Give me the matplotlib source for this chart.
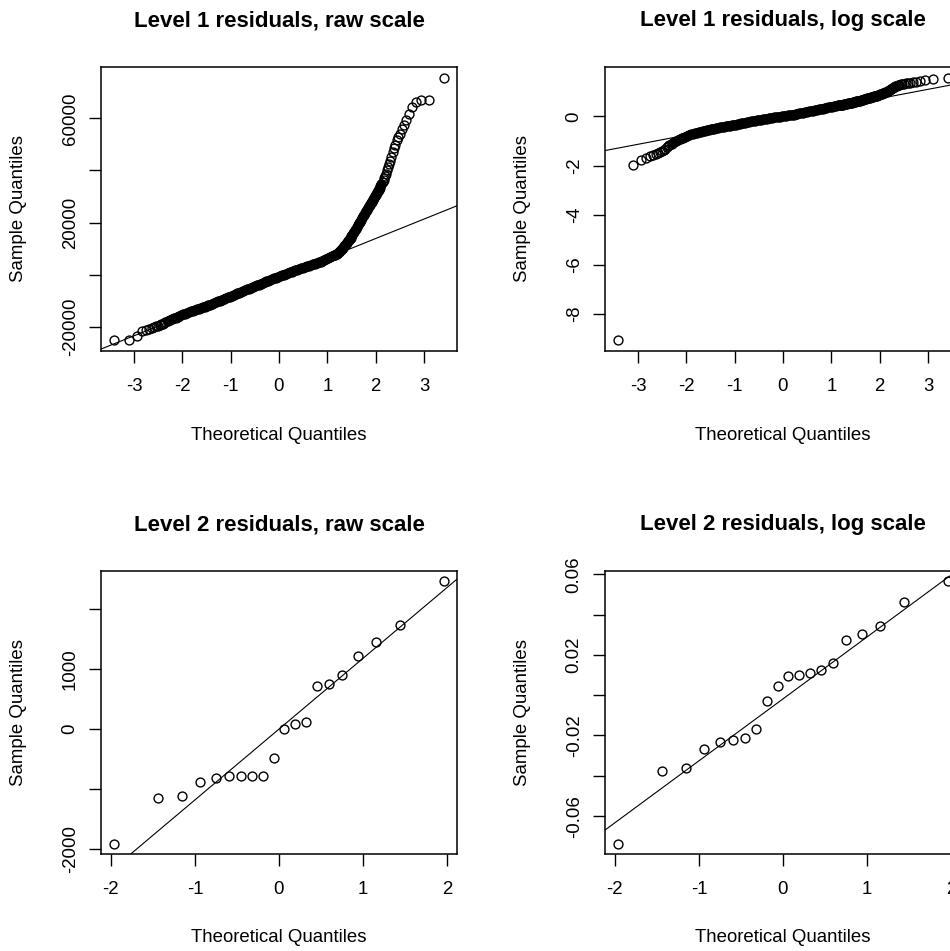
import matplotlib.pyplot as plt

plt.rcParams['font.family'] = ['Liberation Sans', 'DejaVu Sans']

# Level 1 (~1540 residuals): theoretical normal quantiles of the drawn points
l1_theo = [-3.41, -3.10, -2.94, -2.84, -2.76, -2.69, -2.63, -2.585, -2.54, -2.50,
           -2.47, -2.435, -2.405, -2.375, -2.35,
           -2.30, -2.26, -2.22, -2.18, -2.14, -2.10, -2.06, -2.02, -1.98, -1.94,
           -1.90, -1.86, -1.82, -1.78, -1.74, -1.70, -1.66, -1.62, -1.58, -1.54,
           -1.50, -1.46, -1.42, -1.38, -1.34, -1.30, -1.26, -1.22, -1.18, -1.14,
           -1.10, -1.06, -1.02, -0.98, -0.94, -0.90, -0.86, -0.82, -0.78, -0.74,
           -0.70, -0.66, -0.62, -0.58, -0.54, -0.50, -0.46, -0.42, -0.38, -0.34,
           -0.30, -0.26, -0.22, -0.18, -0.14, -0.10, -0.06, -0.02, 0.02, 0.06,
           0.10, 0.14, 0.18, 0.22, 0.26, 0.30, 0.34, 0.38, 0.42, 0.46,
           0.50, 0.54, 0.58, 0.62, 0.66, 0.70, 0.74, 0.78, 0.82, 0.86,
           0.90, 0.94, 0.98, 1.02, 1.06, 1.10, 1.14,
           1.16, 1.18, 1.20, 1.22, 1.24, 1.26, 1.28, 1.30, 1.32, 1.34,
           1.36, 1.38, 1.40, 1.42, 1.44, 1.46, 1.48, 1.50, 1.52, 1.54,
           1.56, 1.58, 1.60, 1.62, 1.64, 1.66, 1.68, 1.70, 1.72, 1.74,
           1.76, 1.78, 1.80, 1.82, 1.84, 1.86, 1.88, 1.90, 1.92, 1.94,
           1.96, 1.98, 2.00, 2.02, 2.04, 2.06, 2.08, 2.10, 2.12,
           2.146, 2.163, 2.18, 2.198, 2.216, 2.236, 2.257, 2.28, 2.30, 2.325,
           2.35, 2.375, 2.405, 2.435, 2.47, 2.50, 2.54, 2.585, 2.63, 2.69,
           2.76, 2.84, 2.94, 3.10, 3.41]

l1_raw = [-25100, -25000, -23300, -21650, -20950, -20700, -20370, -20000, -19650, -19400,
          -19200, -18880, -18600, -18330, -18100,
          -17650, -17320, -16990, -16680, -16360, -16030, -15720, -15410, -15110, -14810,
          -14520, -14230, -13940, -13680, -13410, -13160, -12900, -12640, -12380, -12110,
          -11840, -11590, -11330, -11040, -10740, -10440, -10140, -9840, -9540, -9240,
          -8930, -8620, -8320, -8000, -7690, -7380, -7070, -6760, -6460, -6150,
          -5840, -5530, -5220, -4920, -4610, -4310, -4000, -3700, -3400, -3100,
          -2800, -2500, -2200, -1900, -1610, -1320, -1030, -740, -450, -160,
          120, 400, 680, 960, 1230, 1510, 1780, 2050, 2320, 2560,
          2800, 3050, 3300, 3550, 3800, 4060, 4320, 4570, 4840, 5110,
          5450, 5770, 6100, 6440, 6780, 7130, 7490,
          7690, 7910, 8170, 8470, 8810, 9190, 9590, 10010, 10450, 10900,
          11360, 11830, 12310, 12810, 13310, 13810, 14320, 14840, 15370, 15910,
          16500, 17130, 17780, 18440, 19100, 19760, 20420, 21080, 21740, 22400,
          23060, 23720, 24380, 25020, 25640, 26260, 26880, 27500, 28120, 28740,
          29400, 30060, 30720, 31380, 32040, 32700, 33360, 34070, 34800,
          35700, 36400, 37100, 37850, 38800, 40000, 41200, 42400, 43500, 45000,
          46900, 48500, 49700, 51500, 52700, 53900, 55800, 57300, 59200, 61500,
          64200, 66200, 66900, 67100, 75600]

l1_log = [-9.07, -1.96, -1.78, -1.67, -1.61, -1.56, -1.52, -1.49, -1.44, -1.40,
          -1.36, -1.31, -1.26, -1.21, -1.17,
          -1.100, -1.057, -1.014, -0.972, -0.932, -0.896, -0.860, -0.823, -0.787, -0.756,
          -0.732, -0.710, -0.688, -0.665, -0.643, -0.620, -0.598, -0.577, -0.558, -0.542,
          -0.526, -0.510, -0.494, -0.478, -0.462, -0.446, -0.431, -0.416, -0.402, -0.388,
          -0.374, -0.359, -0.345, -0.331, -0.317, -0.302, -0.286, -0.270, -0.254, -0.238,
          -0.222, -0.206, -0.190, -0.175, -0.161, -0.148, -0.135, -0.122, -0.109, -0.096,
          -0.083, -0.070, -0.057, -0.045, -0.033, -0.022, -0.010, 0.001, 0.013, 0.025,
          0.036, 0.047, 0.058, 0.071, 0.086, 0.103, 0.119, 0.135, 0.151, 0.168,
          0.184, 0.200, 0.216, 0.232, 0.249, 0.265, 0.281, 0.297, 0.314, 0.330,
          0.346, 0.362, 0.377, 0.392, 0.408, 0.423, 0.438,
          0.446, 0.454, 0.461, 0.469, 0.476, 0.485, 0.494, 0.503, 0.512, 0.521,
          0.530, 0.540, 0.549, 0.558, 0.567, 0.576, 0.585, 0.594, 0.603, 0.613,
          0.622, 0.631, 0.640, 0.652, 0.664, 0.676, 0.687, 0.699, 0.711, 0.723,
          0.734, 0.746, 0.758, 0.770, 0.781, 0.793, 0.805, 0.817, 0.828, 0.841,
          0.855, 0.871, 0.886, 0.901, 0.916, 0.932, 0.947, 0.962, 0.977,
          1.00, 1.02, 1.04, 1.06, 1.08, 1.10, 1.13, 1.15, 1.18, 1.21,
          1.23, 1.26, 1.28, 1.30, 1.31, 1.32, 1.33, 1.34, 1.35, 1.37,
          1.40, 1.43, 1.46, 1.49, 1.57]

# sample quartiles of the full level 1 residuals (for qqline)
l1_raw_quart = [-5980, 4070]
l1_log_quart = [-0.27, 0.23]

# Level 2 (20 groups)
l2_theo = [-1.960, -1.440, -1.150, -0.935, -0.755, -0.598, -0.454, -0.319, -0.189, -0.063,
           0.063, 0.189, 0.319, 0.454, 0.598, 0.755, 0.935, 1.150, 1.440, 1.960]
l2_raw = [-1910, -1155, -1122, -883, -817, -790, -785, -778, -775, -477,
          0, 89, 112, 723, 762, 912, 1217, 1462, 1740, 2467]
l2_log = [-0.0736, -0.0378, -0.0363, -0.0269, -0.0231, -0.0224, -0.0214, -0.0170, -0.0030, 0.0045,
          0.0094, 0.0102, 0.0111, 0.0126, 0.0160, 0.0276, 0.0305, 0.0342, 0.0464, 0.0564]

titles = ["Level 1 residuals, raw scale", "Level 1 residuals, log scale",
          "Level 2 residuals, raw scale", "Level 2 residuals, log scale"]

Z75 = 0.6745  # qnorm(0.75)
FS = 13.4
MS, MEW = 6.4, 1.0
DENSE = slice(15, 151)  # part of level 1 where ~1500 circles overlap into a solid band


def r_range(v):
    lo, hi = min(v), max(v)
    pad = 0.04 * (hi - lo)
    return lo - pad, hi + pad


def quartiles(v):
    s = sorted(v)
    n = len(s)
    out = []
    for p in (0.25, 0.75):
        h = (n - 1) * p
        i = int(h)
        out.append(s[i] + (h - i) * (s[i + 1] - s[i]))
    return out


def qq_panel(rect, theo, sample, quart, title, xticks, yticks, ylabels, dense=None):
    ax = fig.add_axes(rect)
    h_px = rect[3] * 951
    if dense is not None:
        ax.plot(theo[dense], sample[dense], '-', color='black', lw=MS,
                solid_capstyle='round', solid_joinstyle='round')
    ax.plot(theo, sample, 'o', mfc='none', mec='black', ms=MS, mew=MEW)
    ax.axline((-Z75, quart[0]), (Z75, quart[1]), color='black', lw=0.8)
    ax.set_xlim(r_range(theo))
    ax.set_ylim(r_range(sample))
    ax.set_xticks(xticks)
    ax.set_xticklabels([str(t) for t in xticks])
    ax.set_yticks(yticks)
    ax.set_yticklabels(ylabels, rotation=90, va='center')
    ax.tick_params(direction='out', length=8.4, width=1.0, labelsize=FS, color='black')
    ax.tick_params(axis='x', pad=11)
    ax.tick_params(axis='y', pad=7.7)
    for sp in ax.spines.values():
        sp.set_linewidth(1.1)
    ax.text(0.5, 1 + 41 / h_px, title, transform=ax.transAxes, ha='center',
            va='baseline', fontsize=16, fontweight='bold')
    ax.set_xlabel("Theoretical Quantiles", fontsize=FS)
    ax.xaxis.set_label_coords(0.5, -84 / h_px)
    ax.xaxis.label.set_va('center')
    ax.set_ylabel("Sample Quantiles", fontsize=FS)
    ax.yaxis.set_label_coords(-0.233, 0.5)
    ax.yaxis.label.set_va('center')
    return ax


fig = plt.figure(figsize=(9.5, 9.51), dpi=100)

W = 356 / 950
left1, left2 = 101 / 950, 605 / 950
top_b, top_h = (951 - 351) / 951, 284 / 951
bot_b, bot_h = (951 - 854) / 951, 283 / 951

qq_panel([left1, top_b, W, top_h], l1_theo, l1_raw, l1_raw_quart, titles[0],
         [-3, -2, -1, 0, 1, 2, 3],
         [-20000, 0, 20000, 40000, 60000], ['-20000', '', '20000', '', '60000'],
         dense=DENSE)
qq_panel([left2, top_b, W, top_h], l1_theo, l1_log, l1_log_quart, titles[1],
         [-3, -2, -1, 0, 1, 2, 3],
         [-8, -6, -4, -2, 0], ['-8', '-6', '-4', '-2', '0'],
         dense=DENSE)
qq_panel([left1, bot_b, W, bot_h], l2_theo, l2_raw, quartiles(l2_raw), titles[2],
         [-2, -1, 0, 1, 2],
         [-2000, -1000, 0, 1000, 2000], ['-2000', '', '0', '1000', ''])
qq_panel([left2, bot_b, W, bot_h], l2_theo, l2_log, quartiles(l2_log), titles[3],
         [-2, -1, 0, 1, 2],
         [-0.06, -0.04, -0.02, 0.0, 0.02, 0.04, 0.06],
         ['-0.06', '', '-0.02', '', '0.02', '', '0.06'])

fig.savefig("out.png", dpi=100)
